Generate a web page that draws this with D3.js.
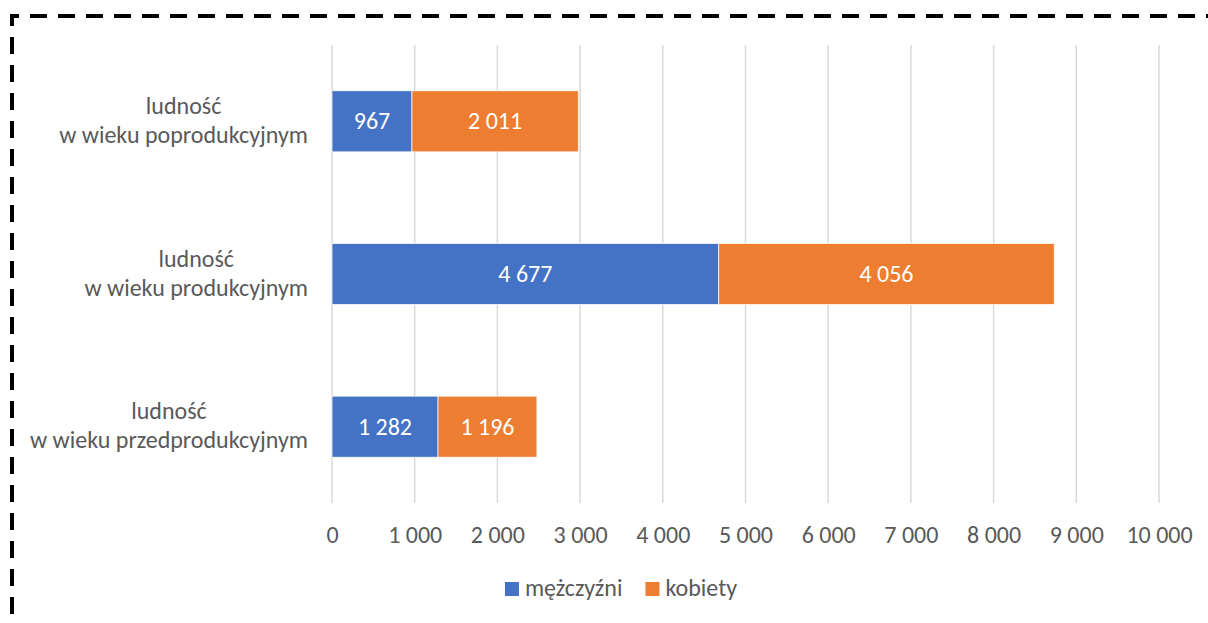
<!DOCTYPE html>
<html>
<head>
<meta charset="utf-8">
<script src="https://cdn.jsdelivr.net/npm/d3@7"></script>
<style>
  html, body { margin: 0; padding: 0; background: #fff; overflow: hidden; }
  text { font-family: Carlito, Calibri, Lato, sans-serif; }
</style>
</head>
<body>
<div id="chart"></div>
<script>
var svgWidth = 1208;
var svgHeight = 623;

// data
var categories = [
  ["ludność", "w wieku poprodukcyjnym"],
  ["ludność", "w wieku produkcyjnym"],
  ["ludność", "w wieku przedprodukcyjnym"]
];
var seriesNames = ["mężczyźni", "kobiety"];
var men = [967, 4677, 1282];
var women = [2011, 4056, 1196];
var xTicks = [0, 1000, 2000, 3000, 4000, 5000, 6000, 7000, 8000, 9000, 10000];
var colors = ["#4472C4", "#ED7D31"];

var textColor = "#595959";
var fontSize = 24;

var plot = { left: 332, right: 1159, top: 45, bottom: 503 };

var svg = d3.select("#chart")
  .append("svg")
  .attr("width", svgWidth)
  .attr("height", svgHeight);

// dashed frame (top + left edges visible)
svg.append("path")
  .attr("d", "M12," + svgHeight + " V16 H" + (svgWidth + 10))
  .attr("fill", "none")
  .attr("stroke", "#000")
  .attr("stroke-width", 4)
  .attr("stroke-dasharray", "17 11")
  .attr("stroke-dashoffset", 19);

var x = d3.scaleLinear()
  .domain([0, 10000])
  .range([plot.left, plot.right]);

var y = d3.scaleBand()
  .domain(d3.range(categories.length))
  .range([plot.top, plot.bottom])
  .paddingInner(0.6)
  .paddingOuter(0.3);

var fmt = function(v) { return d3.format(",")(v).replace(/,/g, " "); };

// gridlines
svg.append("g")
  .selectAll("line")
  .data(xTicks)
  .enter()
  .append("line")
  .attr("x1", d => x(d))
  .attr("x2", d => x(d))
  .attr("y1", plot.top)
  .attr("y2", plot.bottom)
  .attr("stroke", "#D9D9D9")
  .attr("stroke-width", 1.5);

// x axis labels
var xAxis = d3.axisBottom(x)
  .tickValues(xTicks)
  .tickSize(0)
  .tickPadding(0)
  .tickFormat(fmt);

var xg = svg.append("g")
  .attr("transform", `translate(0, ${plot.bottom})`)
  .call(xAxis);
xg.select(".domain").remove();
xg.selectAll("text")
  .attr("y", 40)
  .attr("dy", null)
  .attr("fill", textColor)
  .style("font-size", fontSize + "px")
  .style("font-family", null);

// stacked bars
var stackData = categories.map(function(c, i) {
  return { i: i, men: men[i], women: women[i] };
});
var stack = d3.stack().keys(["men", "women"]);
var layers = stack(stackData);

var barGroups = svg.append("g")
  .selectAll("g")
  .data(layers)
  .enter()
  .append("g")
  .attr("fill", (d, i) => colors[i]);

barGroups.selectAll("rect")
  .data(d => d)
  .enter()
  .append("rect")
  .attr("x", d => x(d[0]))
  .attr("y", d => y(d.data.i))
  .attr("width", d => x(d[1]) - x(d[0]))
  .attr("height", y.bandwidth())
  .attr("stroke", "#fff")
  .attr("stroke-width", 0.75);

barGroups.selectAll("text")
  .data(d => d)
  .enter()
  .append("text")
  .attr("x", d => (x(d[0]) + x(d[1])) / 2)
  .attr("y", d => y(d.data.i) + y.bandwidth() / 2 + 8)
  .attr("text-anchor", "middle")
  .attr("fill", "#fff")
  .style("font-size", fontSize + "px")
  .text(d => fmt(d[1] - d[0]));

// category labels: block right-aligned, lines centred within it
var labelRight = 308;
var catGroups = svg.append("g")
  .selectAll("g")
  .data(categories)
  .enter()
  .append("g");

catGroups.each(function(lines, i) {
  var g = d3.select(this);
  var c = y(i) + y.bandwidth() / 2;
  var texts = g.selectAll("text")
    .data(lines)
    .enter()
    .append("text")
    .attr("y", (d, j) => c - 7.5 + j * 29)
    .attr("text-anchor", "middle")
    .attr("fill", textColor)
    .style("font-size", fontSize + "px")
    .text(d => d);
  var maxW = 0;
  texts.each(function() { maxW = Math.max(maxW, this.getComputedTextLength()); });
  texts.attr("x", labelRight - maxW / 2);
});

// legend
var legend = svg.append("g");
var items = legend.selectAll("g")
  .data(seriesNames)
  .enter()
  .append("g");

items.append("rect")
  .attr("width", 14)
  .attr("height", 14)
  .attr("y", 582)
  .attr("fill", (d, i) => colors[i]);

items.append("text")
  .attr("x", 20)
  .attr("y", 596)
  .attr("fill", textColor)
  .style("font-size", fontSize + "px")
  .text(d => d);

var offset = 0;
var widths = [];
items.each(function() {
  var w = 20 + d3.select(this).select("text").node().getComputedTextLength();
  widths.push(w);
});
var total = d3.sum(widths) + 23 * (widths.length - 1);
var start = 621 - total / 2;
items.attr("transform", function(d, i) {
  var tx = start + offset;
  offset += widths[i] + 23;
  return `translate(${tx}, 0)`;
});
</script>
</body>
</html>
